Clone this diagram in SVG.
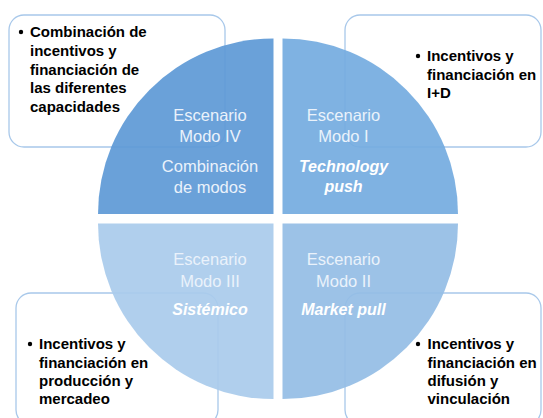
<svg xmlns="http://www.w3.org/2000/svg" width="543" height="418" viewBox="0 0 543 418">
<style>
.box{fill:#ffffff;stroke:#a8c8ea;stroke-width:1.3}
.q{fill-opacity:0.92}
.lab{font-family:"Liberation Sans",Arial,sans-serif;font-size:16.5px;fill:#eaf2fb;text-anchor:middle}
.sub{font-family:"Liberation Sans",Arial,sans-serif;font-size:16px;font-weight:bold;font-style:italic;fill:#ffffff;text-anchor:middle}
.bt{font-family:"Liberation Sans",Arial,sans-serif;font-size:15px;font-weight:bold;fill:#000000}
</style>
<rect width="543" height="418" fill="#ffffff"/>
<g id="box-tl"><rect class="box" x="9" y="15" width="216" height="132" rx="15"/></g>
<g id="box-tr"><rect class="box" x="345" y="15" width="196" height="132" rx="15"/></g>
<g id="box-bl"><rect class="box" x="16" y="293" width="202" height="132" rx="15"/></g>
<g id="box-br"><rect class="box" x="345" y="293" width="196" height="132" rx="15"/></g>
<g id="q-iv">
<path class="q" fill="#5d99d6" d="M273.5,214 L98,214 A175.5,175.5 0 0 1 273.5,38.5 Z"/>
<text class="lab" x="210" y="121">Escenario</text>
<text class="lab" x="210" y="142">Modo IV</text>
<text class="lab" x="210" y="172">Combinación</text>
<text class="lab" x="210" y="193">de modos</text>
</g>
<g id="q-i">
<path class="q" fill="#74abe0" d="M282.5,214 L282.5,38.5 A175.5,175.5 0 0 1 458,214 Z"/>
<text class="lab" x="343.5" y="121">Escenario</text>
<text class="lab" x="343.5" y="142">Modo I</text>
<text class="sub" x="343.5" y="172">Technology</text>
<text class="sub" x="343.5" y="192">push</text>
</g>
<g id="q-ii">
<path class="q" fill="#94bde5" d="M282.5,223.5 L458,223.5 A175.5,175.5 0 0 1 282.5,399 Z"/>
<text class="lab" x="343.5" y="265">Escenario</text>
<text class="lab" x="343.5" y="287">Modo II</text>
<text class="sub" x="343.5" y="315">Market pull</text>
</g>
<g id="q-iii">
<path class="q" fill="#a9cbec" d="M273.5,223.5 L273.5,399 A175.5,175.5 0 0 1 98,223.5 Z"/>
<text class="lab" x="210" y="265">Escenario</text>
<text class="lab" x="210" y="287">Modo III</text>
<text class="sub" x="210" y="315">Sistémico</text>
</g>
<g id="txt-tl">
<circle cx="21" cy="32" r="2.2" fill="#000"/>
<text class="bt" x="30" y="37">Combinación de</text>
<text class="bt" x="30" y="56">incentivos y</text>
<text class="bt" x="30" y="75">financiación de</text>
<text class="bt" x="30" y="93">las diferentes</text>
<text class="bt" x="30" y="112">capacidades</text>
</g>
<g id="txt-tr">
<circle cx="418" cy="56" r="2.2" fill="#000"/>
<text class="bt" x="427" y="61">Incentivos y</text>
<text class="bt" x="427" y="80">financiación en</text>
<text class="bt" x="427" y="98">I+D</text>
</g>
<g id="txt-bl">
<circle cx="30" cy="344" r="2.2" fill="#000"/>
<text class="bt" x="39" y="349">Incentivos y</text>
<text class="bt" x="39" y="368">financiación en</text>
<text class="bt" x="39" y="386">producción y</text>
<text class="bt" x="39" y="404">mercadeo</text>
</g>
<g id="txt-br">
<circle cx="418" cy="344" r="2.2" fill="#000"/>
<text class="bt" x="427.5" y="349">Incentivos y</text>
<text class="bt" x="427.5" y="368">financiación en</text>
<text class="bt" x="427.5" y="386">difusión y</text>
<text class="bt" x="427.5" y="404">vinculación</text>
</g>
<g id="connectors"></g>
</svg>
